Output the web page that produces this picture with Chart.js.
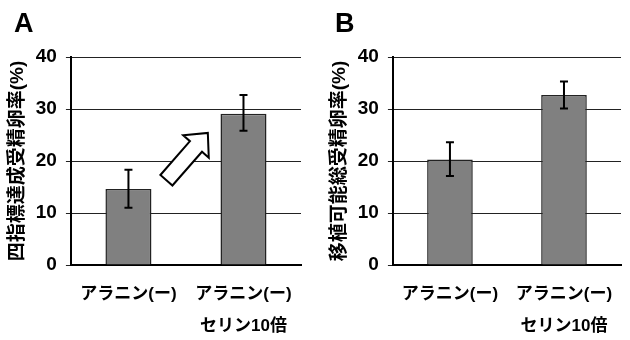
<!DOCTYPE html>
<html>
<head>
<meta charset="utf-8">
<script src="https://cdn.jsdelivr.net/npm/chart.js@4"></script>
<style>
  body { margin: 0; background: #fff; }
  .panel { position: absolute; top: 0; width: 315px; height: 340px; }
  .letter { position: absolute; top: 8px; font: bold 27px 'Liberation Sans', Arial, sans-serif; color: #000; }
</style>
</head>
<body>
<div class="panel" style="left:0"><canvas id="chartA" width="315" height="340"></canvas><div class="letter" style="left:14px">A</div></div>
<div class="panel" style="left:315px"><canvas id="chartB" width="315" height="340"></canvas><div class="letter" style="left:20px">B</div></div>
<script>
// ---- data ----
const categories = [['アラニン(ー)', ''], ['アラニン(ー)', 'セリン10倍']];
const yTicks = [0, 10, 20, 30, 40];

const titleA = '四指標達成受精卵率(%)';
const valuesA = [14.6, 29.1];
const lowA = [11.0, 25.8];
const highA = [18.3, 32.7];

const titleB = '移植可能総受精卵率(%)';
const valuesB = [20.3, 32.7];
const lowB = [17.1, 30.1];
const highB = [23.6, 35.3];

const FONT = "'Liberation Sans', 'Noto Sans CJK JP', sans-serif";

// error bars drawn on top of the bars
const errorBars = {
  id: 'errorBars',
  afterDatasetsDraw(chart, args, opts) {
    const { ctx, scales: { x, y } } = chart;
    ctx.save();
    ctx.strokeStyle = '#000';
    ctx.lineWidth = 2;
    opts.low.forEach((lo, i) => {
      const px = x.getPixelForValue(i);
      const y1 = y.getPixelForValue(lo), y2 = y.getPixelForValue(opts.high[i]);
      ctx.beginPath();
      ctx.moveTo(px, y1); ctx.lineTo(px, y2);
      ctx.moveTo(px - 4, y1); ctx.lineTo(px + 4, y1);
      ctx.moveTo(px - 4, y2); ctx.lineTo(px + 4, y2);
      ctx.stroke();
    });
    ctx.restore();
  }
};

// hollow block arrow (panel A)
const blockArrow = {
  id: 'blockArrow',
  afterDatasetsDraw(chart, args, opts) {
    if (!opts.from) return;
    const { ctx, scales: { x, y } } = chart;
    const x0 = x.getPixelForValue(opts.from[0]), y0 = y.getPixelForValue(opts.from[1]);
    const x1 = x.getPixelForValue(opts.to[0]), y1 = y.getPixelForValue(opts.to[1]);
    const L = Math.hypot(x1 - x0, y1 - y0), ang = Math.atan2(y1 - y0, x1 - x0);
    const sw = 16, hw = 34, hl = 18;
    ctx.save();
    ctx.translate(x0, y0);
    ctx.rotate(ang);
    ctx.beginPath();
    ctx.moveTo(0, -sw / 2);
    ctx.lineTo(L - hl, -sw / 2);
    ctx.lineTo(L - hl, -hw / 2);
    ctx.lineTo(L, 0);
    ctx.lineTo(L - hl, hw / 2);
    ctx.lineTo(L - hl, sw / 2);
    ctx.lineTo(0, sw / 2);
    ctx.closePath();
    ctx.fillStyle = '#fff';
    ctx.fill();
    ctx.strokeStyle = '#000';
    ctx.lineWidth = 2;
    ctx.stroke();
    ctx.restore();
  }
};

function makeChart(id, title, values, low, high, arrow, padLeft, padRight) {
  return new Chart(document.getElementById(id), {
    type: 'bar',
    data: {
      labels: categories,
      datasets: [{
        data: values,
        backgroundColor: '#808080',
        borderColor: '#222',
        borderWidth: 1.5,
        barPercentage: 0.4,
        categoryPercentage: 1
      }]
    },
    options: {
      responsive: false,
      animation: false,
      layout: { padding: { top: 57, left: padLeft, right: padRight, bottom: 0 } },
      plugins: {
        legend: { display: false },
        tooltip: { enabled: false },
        errorBars: { low: low, high: high },
        blockArrow: arrow
      },
      scales: {
        x: {
          afterFit: (axis) => { axis.height = 75; },
          grid: { display: false, drawTicks: false },
          border: { color: '#000', width: 2 },
          ticks: {
            color: '#000',
            padding: 14,
            maxRotation: 0,
            font: { family: FONT, size: 17, weight: 'bold', lineHeight: 1.85 }
          }
        },
        y: {
          min: yTicks[0],
          max: yTicks[yTicks.length - 1],
          afterBuildTicks: (axis) => { axis.ticks = yTicks.map(v => ({ value: v })); },
          grid: { color: '#222', lineWidth: 1, tickLength: 5 },
          border: { color: '#000', width: 2 },
          title: {
            display: true,
            text: title,
            color: '#000',
            padding: { top: 0, bottom: -2 },
            font: { family: FONT, size: 19, weight: 'bold' }
          },
          ticks: {
            color: '#000',
            padding: 9,
            font: { family: FONT, size: 19, weight: 'bold' }
          }
        }
      }
    },
    plugins: [errorBars, blockArrow]
  });
}

makeChart('chartA', titleA, valuesA, lowA, highA, { from: [0.33, 16.3], to: [0.69, 25.4] }, 6, 14);
makeChart('chartB', titleB, valuesB, lowB, highB, {}, 13, 9);
</script>
</body>
</html>
